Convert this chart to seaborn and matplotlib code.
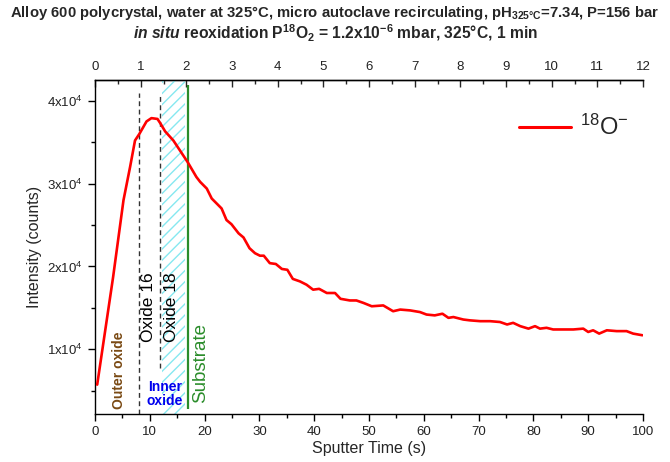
import matplotlib
matplotlib.use("Agg")
import matplotlib.pyplot as plt
import seaborn as sns
import pandas as pd
from matplotlib.ticker import MultipleLocator, FixedLocator

# ---------------- data ----------------
sputter_time = [0.4, 3.3, 5.2, 6.4, 7.3, 8.1, 9.4, 10.3, 11.4, 11.9, 12.8, 14.3,
                15.5, 16.9, 18.5, 19.2, 20.4, 21.3, 23.1, 24.0, 24.9, 26.2, 27.1,
                28.2, 29.2, 30.1, 30.8, 31.9, 33.0, 34.1, 35.1, 36.1, 37.4, 38.6,
                39.8, 40.9, 42.3, 43.8, 44.8, 46.5, 47.7, 49.0, 50.5, 52.6, 54.4,
                55.7, 57.5, 59.3, 60.5, 62.0, 63.4, 64.5, 65.4, 67.2, 68.4, 70.3,
                72.1, 73.9, 75.2, 76.3, 77.6, 79.1, 80.3, 81.2, 82.4, 83.6, 85.4,
                87.3, 89.1, 90.0, 90.9, 92.0, 93.4, 95.2, 97.0, 98.2, 99.9]
o18_intensity = [5740, 18700, 28000, 32000, 35200, 36000, 37500, 37900, 37800,
                 37300, 36300, 35200, 34000, 32600, 30800, 30200, 29400, 28200,
                 27000, 25600, 25100, 24000, 23500, 22200, 21600, 21300, 21300,
                 20400, 20300, 19700, 19600, 18500, 18200, 17800, 17200, 17300,
                 16800, 16800, 16100, 15900, 15900, 15600, 15200, 15300, 14600,
                 14800, 14700, 14500, 14200, 14100, 14300, 13800, 13900, 13600,
                 13500, 13400, 13400, 13300, 13000, 13200, 12800, 12500, 12800,
                 12500, 12600, 12400, 12400, 12400, 12500, 12100, 12300, 11900,
                 12300, 12200, 12200, 11900, 11700]
series_label = r'$^{18}$O$^{-}$'

y_ticks = [10000, 20000, 30000, 40000]
y_tick_labels = [r'$\mathregular{1x10^4}$', r'$\mathregular{2x10^4}$',
                 r'$\mathregular{3x10^4}$', r'$\mathregular{4x10^4}$']
top_ticks = list(range(0, 13))

oxide16_line = 8.0
oxide18_line = 11.9
inner18_span = (12.3, 16.5)
substrate_line = 16.9

title_line1 = r'Alloy 600 polycrystal, water at 325°C, micro autoclave recirculating, pH$_{\mathbf{325°C}}$=7.34, P=156 bar'
title_line2 = r'$\mathbfit{in\ situ}$ reoxidation P$^{\mathbf{18}}$O$_{\mathbf{2}}$ = 1.2x10$^{\mathbf{-6}}$ mbar, 325°C, 1 min'

# ---------------- style ----------------
sns.set_style("ticks")
plt.rcParams['font.family'] = ['Liberation Sans', 'DejaVu Sans']
plt.rcParams['mathtext.fontset'] = 'custom'
plt.rcParams['mathtext.rm'] = 'Liberation Sans'
plt.rcParams['mathtext.it'] = 'Liberation Sans:italic'
plt.rcParams['mathtext.bf'] = 'Liberation Sans:bold'
plt.rcParams['mathtext.sf'] = 'Liberation Sans'
try:
    plt.rcParams['mathtext.bfit'] = 'Liberation Sans:italic:bold'
except KeyError:
    pass
plt.rcParams['hatch.linewidth'] = 1.0

df = pd.DataFrame({"t": sputter_time, "I": o18_intensity})

fig = plt.figure(figsize=(6.7, 4.62), dpi=100)
ax = fig.add_axes([95/670, 1-414/462, (643-95)/670, (414-80)/462])

ymin, ymax = 2200, 42500
ax.set_xlim(0, 100)
ax.set_ylim(ymin, ymax)

# hatched region (oxide 18)
ax.axvspan(inner18_span[0], inner18_span[1], facecolor='none', edgecolor='#86e8f0',
           hatch='///', linewidth=0, zorder=1)
# dashed lines
ax.vlines(oxide16_line, ymin, 40900, colors='#333333', linestyles=(0, (3.5, 2.5)), lw=1.0, zorder=2)
ax.vlines(oxide18_line, 7800, 40900, colors='#333333', linestyles=(0, (3.5, 2.5)), lw=1.0, zorder=2)
# substrate line
ax.vlines(substrate_line, 2840, 41900, colors='#2a8c2a', lw=1.6, zorder=2)

sns.lineplot(data=df, x="t", y="I", ax=ax, color='red', lw=1.9, label=series_label, zorder=3)

# annotations
ax.text(4.4, 7440, 'Outer oxide', rotation=90, ha='center', va='center',
        color='#7a4a14', fontweight='bold', fontsize=10)
ax.text(9.7, 15050, 'Oxide 16', rotation=90, ha='center', va='center',
        color='black', fontsize=12.5)
ax.text(14.05, 15050, 'Oxide 18', rotation=90, ha='center', va='center',
        color='black', fontsize=12.5)
ax.text(12.8, 4650, 'Inner\noxide', ha='center', va='center', color='#0000ee',
        fontweight='bold', fontsize=10, linespacing=1.0)
ax.text(19.2, 8400, 'Substrate', rotation=90, ha='center', va='center',
        color='#2a8c2a', fontsize=13.5)

# axes styling
ax.set_xlabel('Sputter Time (s)', fontsize=11.5, labelpad=2)
ax.set_ylabel('Intensity (counts)', fontsize=11.5, labelpad=4)
ax.xaxis.set_major_locator(MultipleLocator(10))
ax.xaxis.set_minor_locator(MultipleLocator(5))
ax.yaxis.set_major_locator(FixedLocator(y_ticks))
ax.set_yticklabels(y_tick_labels)
ax.yaxis.set_minor_locator(MultipleLocator(5000))
ax.tick_params(axis='both', which='major', direction='out', length=5, width=1,
               labelsize=9.5, color='black', labelcolor='#222222')
ax.tick_params(axis='both', which='minor', direction='out', length=3, width=1, color='black')
for s in ['left', 'bottom', 'top']:
    ax.spines[s].set_color('black')
    ax.spines[s].set_linewidth(1.0)
ax.spines['right'].set_visible(False)
ax.spines['top'].set_visible(True)

top = ax.secondary_xaxis('top', functions=(lambda x: x * 0.12, lambda x: x / 0.12))
top.xaxis.set_major_locator(FixedLocator(top_ticks))
top.xaxis.set_minor_locator(MultipleLocator(0.5))
top.tick_params(axis='x', which='major', direction='in', length=5, width=1,
                labelsize=9.5, labelcolor='#222222', pad=5)
top.tick_params(axis='x', which='minor', direction='in', length=3, width=1)
top.spines['top'].set_linewidth(1.0)

leg = ax.legend(loc='upper right', frameon=False, fontsize=17, handlelength=2.2,
                handletextpad=0.35, bbox_to_anchor=(0.995, 0.93), borderaxespad=0.1)
for h in leg.get_lines():
    h.set_linewidth(2.2)

# title lines, line 1 sized to match the reference width
t1 = fig.text(0.5, 1-13/462, title_line1, ha='center', va='center', fontsize=10, fontweight='bold')
fig.canvas.draw()
r = fig.canvas.get_renderer()
fs1 = 10 * 648.0 / t1.get_window_extent(r).width
t1.set_fontsize(fs1)
fig.text(0.5, 1-33/462, title_line2, ha='center', va='center', fontsize=fs1 * 1.05,
         fontweight='bold')

fig.savefig('out.png', dpi=100, facecolor='white')
